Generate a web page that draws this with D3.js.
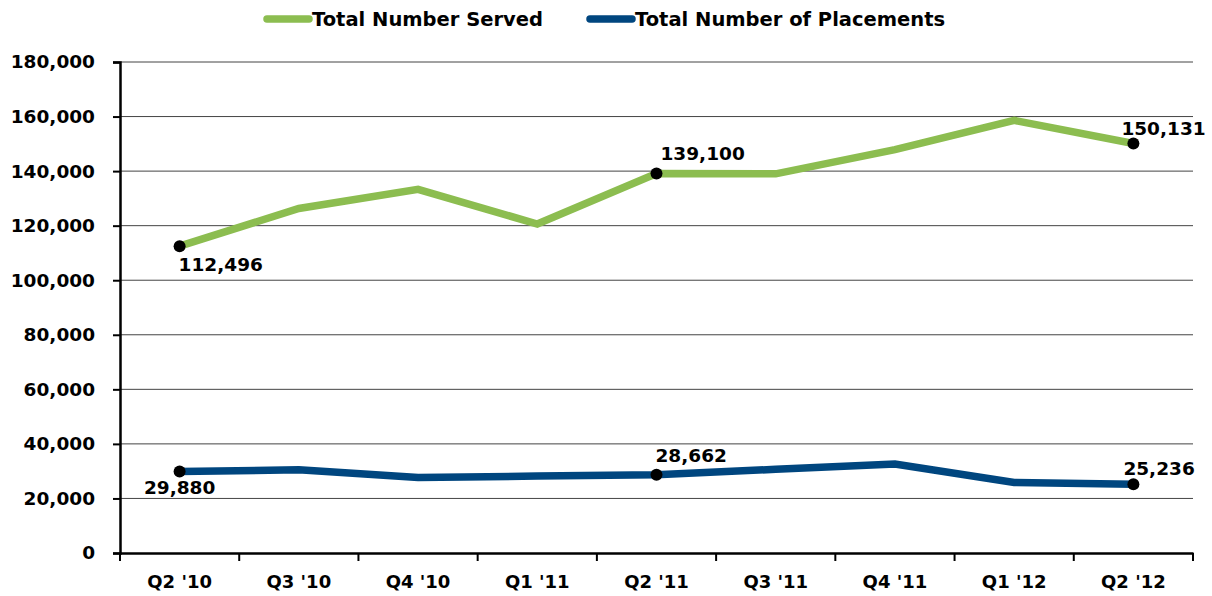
<!DOCTYPE html>
<html>
<head>
<meta charset="utf-8">
<script src="https://cdn.jsdelivr.net/npm/d3@7"></script>
<style>
  body { margin: 0; background: #fff; }
  text { font-family: "DejaVu Sans", sans-serif; font-weight: bold; fill: #000; }
</style>
</head>
<body>
<div id="chart"></div>
<script>
var quarters = ["Q2 '10", "Q3 '10", "Q4 '10", "Q1 '11", "Q2 '11", "Q3 '11", "Q4 '11", "Q1 '12", "Q2 '12"];
var served = [112496, 126300, 133300, 120600, 139100, 139000, 147900, 158600, 150131];
var placements = [29880, 30500, 27700, 28200, 28662, 30700, 32600, 25850, 25236];
var yTicks = [0, 20000, 40000, 60000, 80000, 100000, 120000, 140000, 160000, 180000];
var seriesNames = ["Total Number Served", "Total Number of Placements"];
var colors = ["#8cbd50", "#00467f"];

// labelled points: series index, point index, dx, dy, anchor
var labels = [
    [0, 0, -1, 18, "start"],
    [0, 4, 4, -20, "start"],
    [0, 8, -12, -15, "start"],
    [1, 0, 0, 16, "middle"],
    [1, 4, -1, -19, "start"],
    [1, 8, -10, -16, "start"]
];

var width = 1212, height = 596;
var margin = {top: 62, right: 19, bottom: 43, left: 120};

var svg = d3.select("#chart").append("svg")
    .attr("width", width)
    .attr("height", height);

var x = d3.scaleBand()
    .domain(quarters)
    .range([margin.left, width - margin.right]);

var y = d3.scaleLinear()
    .domain([0, 180000])
    .range([height - margin.bottom, margin.top]);

var fmt = d3.format(",");

// gridlines
svg.append("g")
    .selectAll("line")
    .data(yTicks.slice(1))
    .enter().append("line")
    .attr("x1", margin.left)
    .attr("x2", width - margin.right)
    .attr("y1", function(d) { return y(d); })
    .attr("y2", function(d) { return y(d); })
    .attr("stroke", "#444")
    .attr("stroke-width", 1);

// y axis
var yAxis = svg.append("g")
    .attr("transform", "translate(" + margin.left + ",0)")
    .call(d3.axisLeft(y).tickValues(yTicks).tickFormat(fmt).tickSizeOuter(0).tickSize(7));
yAxis.select(".domain").attr("stroke", "#000").attr("stroke-width", 2.5);
yAxis.selectAll(".tick line").attr("stroke", "#000").attr("stroke-width", 2);
yAxis.selectAll("text")
    .attr("x", -25)
    .style("font-size", "18.5px")
    .style("font-family", "DejaVu Sans")
    .style("font-weight", "bold");

// x axis
var xAxis = svg.append("g")
    .attr("transform", "translate(0," + y(0) + ")")
    .call(d3.axisBottom(x).tickSize(0).tickSizeOuter(0));
xAxis.select(".domain").attr("stroke", "#000").attr("stroke-width", 2.5);
xAxis.selectAll("text")
    .attr("y", 22)
    .style("font-size", "18px")
    .style("font-family", "DejaVu Sans")
    .style("font-weight", "bold");

// band boundary ticks
var bounds = quarters.map(function(q) { return x(q); }).concat([x.range()[1]]);
svg.append("g")
    .selectAll("line")
    .data(bounds)
    .enter().append("line")
    .attr("x1", function(d) { return d; })
    .attr("x2", function(d) { return d; })
    .attr("y1", y(0))
    .attr("y2", y(0) + 8)
    .attr("stroke", "#000")
    .attr("stroke-width", 2);

var line = d3.line()
    .x(function(d, i) { return x(quarters[i]) + x.bandwidth() / 2; })
    .y(function(d) { return y(d); });

var series = [served, placements];

series.forEach(function(s, k) {
    svg.append("path")
        .datum(s)
        .attr("fill", "none")
        .attr("stroke", colors[k])
        .attr("stroke-width", 7.5)
        .attr("stroke-linejoin", "miter")
        .attr("d", line);
});

// dots and labels
labels.forEach(function(l) {
    var s = series[l[0]], i = l[1];
    var cx = x(quarters[i]) + x.bandwidth() / 2, cy = y(s[i]);
    svg.append("circle")
        .attr("cx", cx)
        .attr("cy", cy)
        .attr("r", 6)
        .attr("fill", "#000");
    svg.append("text")
        .attr("x", cx + l[2])
        .attr("y", cy + l[3])
        .attr("dy", "0.35em")
        .attr("text-anchor", l[4])
        .style("font-size", "18.5px")
        .text(fmt(s[i]));
});

// legend
var legendX = [262, 585];
seriesNames.forEach(function(name, k) {
    var g = svg.append("g").attr("transform", "translate(" + legendX[k] + ",19)");
    g.append("line")
        .attr("x1", 5).attr("x2", 47)
        .attr("y1", 0).attr("y2", 0)
        .attr("stroke", colors[k])
        .attr("stroke-width", 7.5)
        .attr("stroke-linecap", "round");
    g.append("text")
        .attr("x", 50)
        .attr("dy", "0.35em")
        .style("font-size", "19.5px")
        .text(name);
});
</script>
</body>
</html>
